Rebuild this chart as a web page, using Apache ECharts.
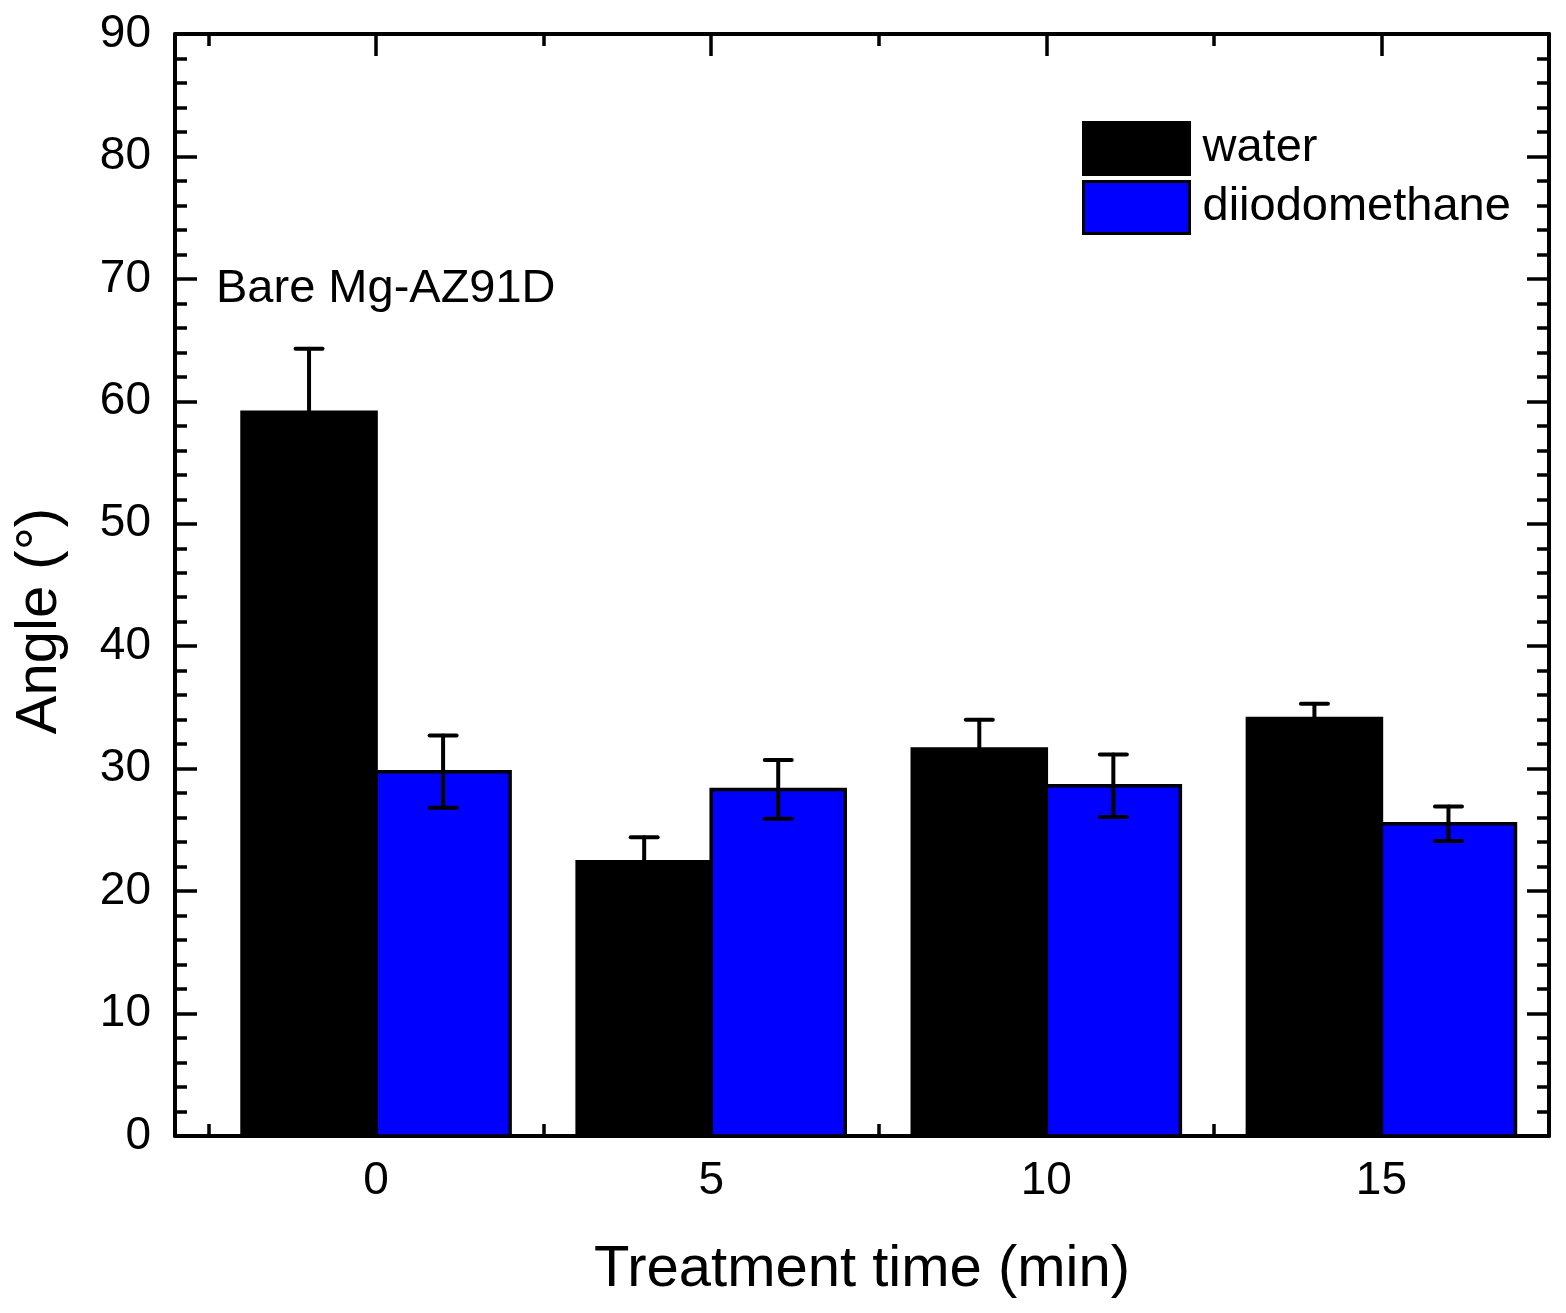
<!DOCTYPE html>
<html>
<head>
<meta charset="utf-8">
<script src="https://cdn.jsdelivr.net/npm/echarts@6/dist/echarts.min.js"></script>
<style>
  html, body { margin: 0; padding: 0; background: #fff; }
  #main { width: 1566px; height: 1313px; }
</style>
</head>
<body>
<div id="main"></div>
<script>
// 数据
var times = [0, 5, 10, 15];
var water = [59.1, 22.4, 31.6, 34.1];
var waterErr = [5.2, 2.0, 2.4, 1.2];
var diiodo = [29.75, 28.3, 28.6, 25.5];
var diiodoErr = [2.95, 2.4, 2.55, 1.4];
var xMinorTicks = [-2.5, 2.5, 7.5, 12.5];

var FONT = 'Liberation Sans, Arial, sans-serif';

// 柱子  (lo/hi: 柱子相对时间点的左右边界)
function barItem(vals, lo, hi) {
    return function (params, api) {
        var i = params.dataIndex;
        var p0 = api.coord([times[i] + lo, vals[i]]);
        var p1 = api.coord([times[i] + hi, 0]);
        return {
            type: 'rect',
            shape: { x: p0[0], y: p0[1], width: p1[0] - p0[0], height: p1[1] - p0[1] },
            style: { fill: api.visual('color'), stroke: '#000', lineWidth: 3.5 }
        };
    };
}

// 误差棒
function errItem(vals, errs, off) {
    return function (params, api) {
        var i = params.dataIndex;
        var x = times[i] + off;
        var top = api.coord([x, vals[i] + errs[i]]);
        var bot = api.coord([x, vals[i] - errs[i]]);
        var half = 13.5;
        var st = { stroke: '#000', lineWidth: 4, lineCap: 'round' };
        return {
            type: 'group',
            children: [
                { type: 'line', shape: { x1: top[0], y1: top[1], x2: bot[0], y2: bot[1] }, style: st },
                { type: 'line', shape: { x1: top[0] - half, y1: top[1], x2: top[0] + half, y2: top[1] }, style: st },
                { type: 'line', shape: { x1: bot[0] - half, y1: bot[1], x2: bot[0] + half, y2: bot[1] }, style: st }
            ]
        };
    };
}

var lineSt = { color: '#000', width: 4 };
var tickSt = { color: '#000', width: 3.5 };

var option = {
    backgroundColor: '#fff',
    animation: false,
    grid: { left: 175, right: 17, top: 34, bottom: 177 },
    legend: {
        orient: 'vertical',
        left: 1077,
        top: 116,
        itemWidth: 106,
        itemHeight: 52,
        itemGap: 4,
        icon: 'rect',
        itemStyle: { borderColor: '#000', borderWidth: 3 },
        textStyle: { fontSize: 47, color: '#000', fontFamily: FONT, padding: [0, 0, 0, 8] },
        data: ['water', 'diiodomethane']
    },
    graphic: [{
        type: 'text',
        left: 216,
        top: 266,
        style: { text: 'Bare Mg-AZ91D', fontSize: 47, fill: '#000', fontFamily: FONT }
    }],
    xAxis: [
        {
            type: 'value', position: 'bottom', min: -3, max: 17.5,
            splitLine: { show: false },
            axisLine: { onZero: false, lineStyle: lineSt },
            axisTick: { inside: true, length: 22, customValues: times, lineStyle: tickSt },
            axisLabel: { customValues: times, fontSize: 46, color: '#000', fontFamily: FONT, margin: 22 },
            name: 'Treatment time (min)',
            nameLocation: 'middle',
            nameGap: 105,
            nameTextStyle: { fontSize: 58, color: '#000', fontFamily: FONT }
        },
        {
            type: 'value', position: 'bottom', min: -3, max: 17.5,
            splitLine: { show: false },
            axisLine: { show: false, onZero: false },
            axisTick: { inside: true, length: 12, customValues: xMinorTicks, lineStyle: tickSt },
            axisLabel: { show: false }
        },
        {
            type: 'value', position: 'top', min: -3, max: 17.5,
            splitLine: { show: false },
            axisLine: { onZero: false, lineStyle: lineSt },
            axisTick: { inside: true, length: 22, customValues: times, lineStyle: tickSt },
            axisLabel: { show: false }
        },
        {
            type: 'value', position: 'top', min: -3, max: 17.5,
            splitLine: { show: false },
            axisLine: { show: false, onZero: false },
            axisTick: { inside: true, length: 12, customValues: xMinorTicks, lineStyle: tickSt },
            axisLabel: { show: false }
        }
    ],
    yAxis: [
        {
            type: 'value', position: 'left', min: 0, max: 90, interval: 10,
            splitLine: { show: false },
            axisLine: { show: true, onZero: false, lineStyle: lineSt },
            axisTick: { inside: true, length: 22, lineStyle: tickSt },
            minorTick: { show: true, splitNumber: 5, length: 12, lineStyle: tickSt },
            axisLabel: { fontSize: 46, color: '#000', fontFamily: FONT, margin: 24 },
            name: 'Angle (°)',
            nameLocation: 'middle',
            nameRotate: 90,
            nameGap: 106,
            nameTextStyle: { fontSize: 58, color: '#000', fontFamily: FONT, padding: [0, 72, 0, 0] }
        },
        {
            type: 'value', position: 'right', min: 0, max: 90, interval: 10,
            splitLine: { show: false },
            axisLine: { show: true, onZero: false, lineStyle: lineSt },
            axisTick: { inside: true, length: 22, lineStyle: tickSt },
            minorTick: { show: true, splitNumber: 5, length: 12, lineStyle: tickSt },
            axisLabel: { show: false }
        }
    ],
    series: [
        {
            name: 'water', type: 'custom', xAxisIndex: 0, yAxisIndex: 0,
            itemStyle: { color: '#000000', borderColor: '#000', borderWidth: 3 },
            renderItem: barItem(water, -2, 0),
            data: water, z: 2
        },
        {
            name: 'water-err', type: 'custom', xAxisIndex: 0, yAxisIndex: 0,
            renderItem: errItem(water, waterErr, -1),
            data: water, z: 3
        },
        {
            name: 'diiodomethane', type: 'custom', xAxisIndex: 0, yAxisIndex: 0,
            itemStyle: { color: '#0000ff', borderColor: '#000', borderWidth: 3 },
            renderItem: barItem(diiodo, 0, 2),
            data: diiodo, z: 2
        },
        {
            name: 'diiodo-err', type: 'custom', xAxisIndex: 0, yAxisIndex: 0,
            renderItem: errItem(diiodo, diiodoErr, 1),
            data: diiodo, z: 3
        }
    ]
};

var chart = echarts.init(document.getElementById('main'));
chart.setOption(option);
</script>
</body>
</html>
